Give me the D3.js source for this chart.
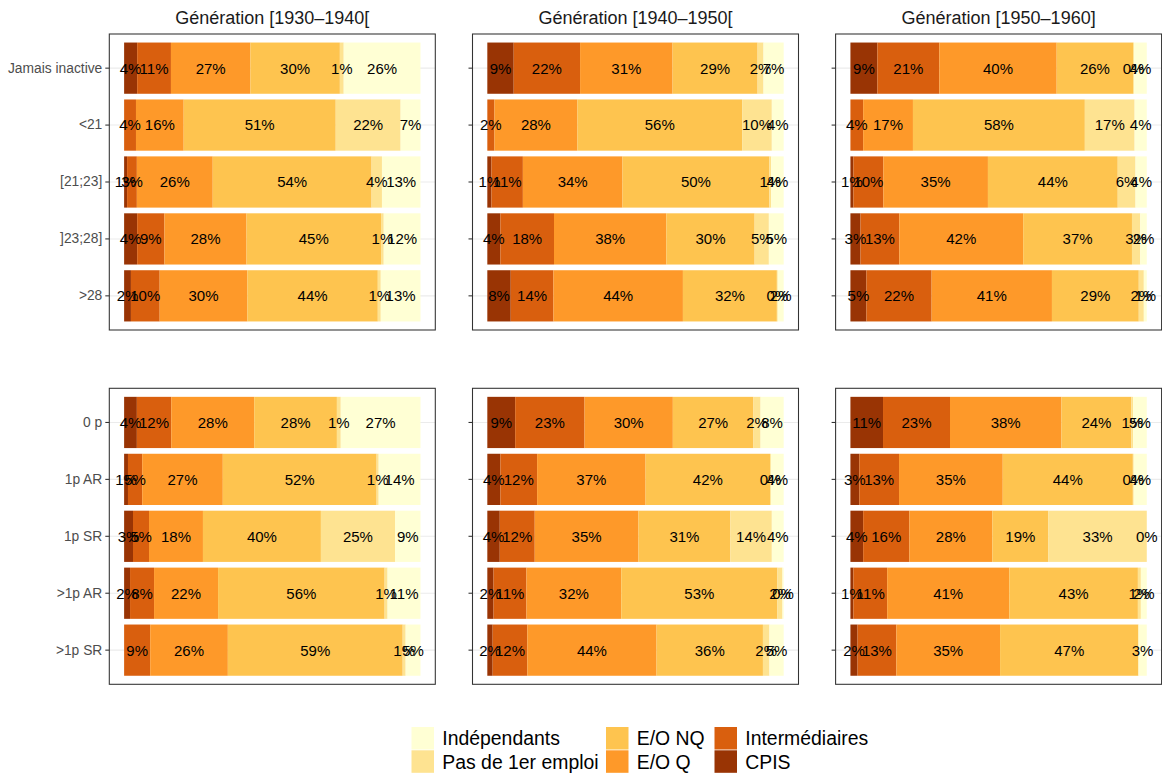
<!DOCTYPE html>
<html>
<head>
<meta charset="utf-8">
<script src="https://cdn.jsdelivr.net/npm/d3@7"></script>
<style>
  html, body { margin: 0; padding: 0; background: #ffffff; }
  svg { display: block; font-family: "Liberation Sans", Arial, Helvetica, sans-serif; }
</style>
</head>
<body>
<svg id="chart" width="1162" height="776"></svg>
<script>
// ---------- data ----------
const categories = ["CPIS", "Intermédiaires", "E/O Q", "E/O NQ", "Pas de 1er emploi", "Indépendants"];
const colors = ["#993404", "#D95F0E", "#FE9929", "#FEC44F", "#FEE391", "#FFFFD4"];
const generations = ["Génération [1930–1940[", "Génération [1940–1950[", "Génération [1950–1960]"];
const ageRows = ["Jamais inactive", "<21", "[21;23]", "]23;28]", ">28"];
const childRows = ["0 p", "1p AR", "1p SR", ">1p AR", ">1p SR"];

// values in %, one row per category of the facet row, in the order of `categories` (null = absent)
const age1930 = [
  [4.4, 11.4, 26.8, 30.2, 1.3, 25.9],
  [null, 4.0, 16.1, 51.3, 21.9, 6.7],
  [1.0, 3.3, 25.6, 53.6, 3.5, 13.0],
  [4.4, 9.2, 27.7, 45.4, 0.9, 12.4],
  [2.3, 9.7, 29.6, 44.0, 1.0, 13.4]
];
const age1940 = [
  [8.9, 22.4, 31.2, 28.7, 2.0, 6.8],
  [null, 2.4, 28.0, 55.6, 10.0, 4.0],
  [1.4, 10.6, 33.6, 49.6, 0.6, 4.2],
  [4.4, 18.1, 37.9, 29.8, 4.8, 5.0],
  [7.9, 14.4, 43.7, 31.7, 0.3, 2.0]
];
const age1950 = [
  [9.1, 20.9, 39.6, 25.8, 0.3, 4.3],
  [null, 4.3, 16.8, 58.0, 16.8, 4.1],
  [1.0, 10.1, 35.3, 43.8, 6.0, 3.8],
  [3.4, 13.1, 41.8, 36.7, 2.8, 2.2],
  [5.4, 22.0, 40.6, 29.3, 1.7, 1.0]
];
const child1930 = [
  [4.3, 11.6, 28.0, 27.9, 1.3, 26.9],
  [1.3, 4.8, 27.2, 51.9, 0.7, 14.1],
  [3.0, 5.4, 18.2, 39.8, 25.0, 8.6],
  [2.0, 8.1, 21.6, 56.2, 1.0, 11.1],
  [null, 8.8, 26.2, 59.0, 1.0, 5.0]
];
const child1940 = [
  [9.4, 23.4, 29.8, 27.2, 2.4, 7.8],
  [4.4, 12.4, 36.6, 42.0, 0.3, 4.3],
  [4.2, 11.8, 35.0, 31.0, 14.0, 4.0],
  [2.1, 11.1, 32.0, 52.7, 1.7, 0.4],
  [1.8, 11.7, 43.6, 35.9, 2.2, 4.8]
];
const child1950 = [
  [11.0, 22.6, 37.6, 23.6, 0.6, 4.6],
  [3.0, 13.4, 35.0, 43.9, 0.3, 4.4],
  [4.3, 15.6, 28.0, 18.9, 33.2, 0.0],
  [1.0, 11.4, 41.2, 43.4, 1.0, 2.0],
  [2.4, 13.1, 35.0, 46.7, null, 2.8]
];

// ---------- layout ----------
const svg = d3.select("#chart");
const panelW = 326, panelH = 296;
const colX = [109.3, 472.5, 835.6];
const rowY = [34, 388.3];
const facetRows = [
  { rows: ageRows, panels: [age1930, age1940, age1950] },
  { rows: childRows, panels: [child1930, child1940, child1950] }
];
const color = d3.scaleOrdinal().domain(categories).range(colors);

// titles
generations.forEach((g, ci) => {
  svg.append("text")
    .attr("x", colX[ci] + panelW / 2)
    .attr("y", 23.5)
    .attr("text-anchor", "middle")
    .attr("font-size", "18px")
    .attr("fill", "#1A1A1A")
    .text(g);
});

facetRows.forEach((fr, ri) => {
  fr.panels.forEach((data, ci) => {
    const x0 = colX[ci], y0 = rowY[ri];
    const x = d3.scaleLinear().domain([-5, 105]).range([x0, x0 + panelW]);
    const y = d3.scaleBand().domain(fr.rows).range([y0, y0 + panelH])
      .paddingInner(0.1).paddingOuter(0.15);
    const g = svg.append("g");

    // gridlines
    g.selectAll("line.grid").data(fr.rows).enter().append("line")
      .attr("x1", x0).attr("x2", x0 + panelW)
      .attr("y1", d => y(d) + y.bandwidth() / 2)
      .attr("y2", d => y(d) + y.bandwidth() / 2)
      .attr("stroke", "#EBEBEB").attr("stroke-width", 1.07);

    // stacked segments
    const segs = [];
    data.forEach((vals, r) => {
      let acc = 0;
      vals.forEach((v, k) => {
        if (v === null) return;
        segs.push({ row: fr.rows[r], cat: categories[k], x0: acc, x1: acc + v, v: v });
        acc += v;
      });
    });
    g.selectAll("rect.seg").data(segs).enter().append("rect")
      .attr("x", d => x(d.x0))
      .attr("width", d => Math.max(0, x(d.x1) - x(d.x0)))
      .attr("y", d => y(d.row))
      .attr("height", y.bandwidth())
      .attr("fill", d => color(d.cat));

    g.selectAll("text.lab").data(segs).enter().append("text")
      .attr("x", d => x((d.x0 + d.x1) / 2))
      .attr("y", d => y(d.row) + y.bandwidth() / 2)
      .attr("dy", "0.36em")
      .attr("text-anchor", "middle")
      .attr("font-size", "15px")
      .attr("fill", "#000000")
      .text(d => Math.round(d.v) + "%");

    // border
    g.append("rect")
      .attr("x", x0).attr("y", y0).attr("width", panelW).attr("height", panelH)
      .attr("fill", "none").attr("stroke", "#333333").attr("stroke-width", 1.07);

    // y axis ticks (labels only for first column)
    const axis = d3.axisLeft(y).tickSize(4).tickPadding(3);
    if (ci !== 0) axis.tickFormat(() => "");
    const ag = svg.append("g").attr("transform", `translate(${x0},0)`).call(axis);
    ag.select(".domain").remove();
    ag.selectAll(".tick line").attr("stroke", "#333333").attr("stroke-width", 1.07);
    ag.selectAll(".tick text")
      .attr("fill", "#4D4D4D")
      .attr("font-size", "13.8px")
      .attr("font-family", "'Liberation Sans', Arial, Helvetica, sans-serif");
  });
});

// ---------- legend ----------
const legendOrder = categories.slice().reverse();
const legX = [411.5, 606, 714.5];
const legY0 = 727, keyW = 22.5, keyH = 22.5, keyStep = 23.3;
legendOrder.forEach((c, i) => {
  const col = Math.floor(i / 2), row = i % 2;
  const kx = legX[col], ky = legY0 + row * keyStep;
  svg.append("rect")
    .attr("x", kx).attr("y", ky).attr("width", keyW).attr("height", keyH)
    .attr("fill", color(c));
  svg.append("text")
    .attr("x", kx + 30.8)
    .attr("y", ky + keyH / 2)
    .attr("dy", "0.36em")
    .attr("font-size", "19.4px")
    .attr("fill", "#000000")
    .text(c);
});
</script>
</body>
</html>
